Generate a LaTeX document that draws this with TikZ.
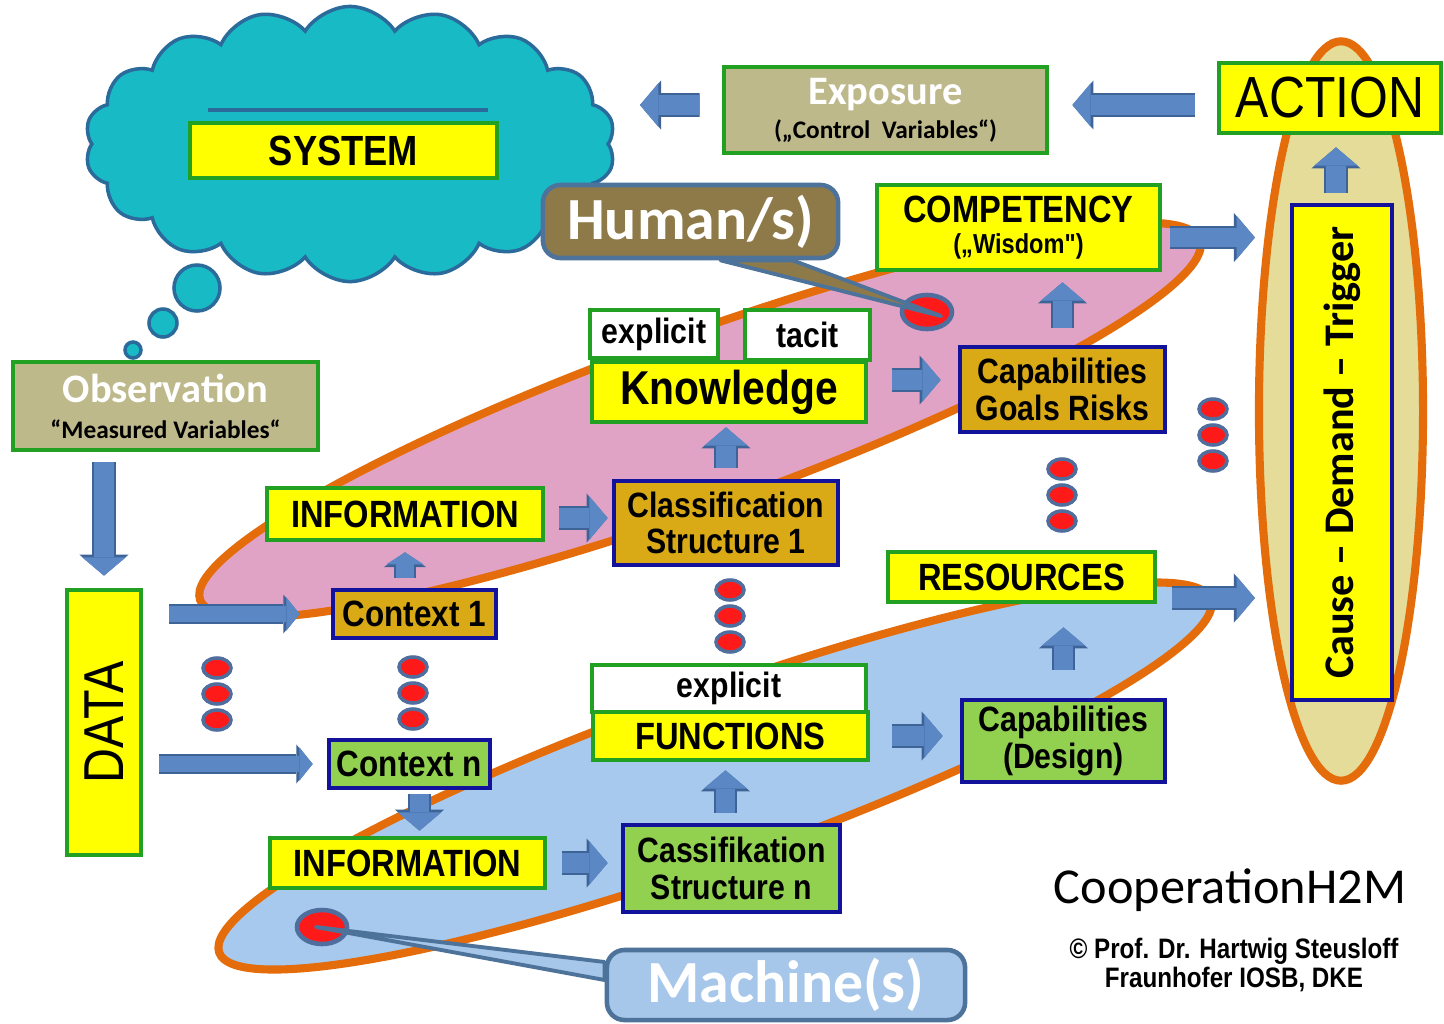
\documentclass[tikz,border=0pt]{standalone}
\usepackage{fontspec}
\usepackage{graphicx}
\usetikzlibrary{shapes.geometric,shapes.symbols,arrows.meta}
\newfontfamily\lsans[FakeStretch=0.86]{Liberation Sans}
\newfontfamily\cfont{Carlito}
\definecolor{boxyellow}{HTML}{FFFF00}
\definecolor{boxgreen}{HTML}{22A022}
\definecolor{navy}{HTML}{12129A}
\definecolor{gold}{HTML}{DAAA16}
\definecolor{lime}{HTML}{92D050}
\definecolor{khaki}{HTML}{BEB98B}
\definecolor{humanbrown}{HTML}{8E7A49}
\definecolor{machfill}{HTML}{A6C6EA}
\definecolor{calloutedge}{HTML}{4E739A}
\definecolor{pinklobe}{HTML}{E1A3C5}
\definecolor{bluelobe}{HTML}{A7C9EE}
\definecolor{trigfill}{HTML}{E5DC9A}
\definecolor{lobeorange}{HTML}{E46C0A}
\definecolor{cloudfill}{HTML}{18BAC6}
\definecolor{cloudedge}{HTML}{2A6B9B}
\definecolor{dotred}{HTML}{FF1A1A}
\definecolor{dotedge}{HTML}{4F6E9E}
\definecolor{arrowblue}{HTML}{5B88C4}
\definecolor{arrowedge}{HTML}{3E6497}
\pgfdeclarelayer{back}
\pgfdeclarelayer{mid}
\pgfsetlayers{back,mid,main}

\begin{document}
\begin{tikzpicture}[x=0.01cm,y=-0.01cm,
  box/.style={draw=boxgreen,line width=1.3pt,inner sep=0pt,align=center,
    font=\lsans\bfseries\fontsize{10.8}{12}\selectfont},
  ybox/.style={box,fill=boxyellow},
  wbox/.style={box,fill=white,font=\lsans\bfseries\fontsize{10}{12}\selectfont},
  kbox/.style={box,fill=khaki,font=\cfont\bfseries\fontsize{7.2}{9}\selectfont},
  cbox/.style={box,draw=navy,fill=gold,font=\lsans\bfseries\fontsize{10}{10.3}\selectfont},
  lbox/.style={cbox,fill=lime},
  callout/.style={draw=calloutedge,line width=1.3pt,rounded corners=5pt,inner sep=0pt,
    text=white,font=\cfont\bfseries\fontsize{17}{20}\selectfont},
  tail/.style={draw=calloutedge,line width=1.1pt,line join=round},
  dot/.style={ellipse,fill=dotred,draw=dotedge,line width=1pt,inner sep=0pt,
    minimum width=0.28cm,minimum height=0.2cm},
  bigdot/.style={dot,line width=1.3pt,minimum width=0.5cm,minimum height=0.34cm},
  lobe/.style={draw=lobeorange,line width=2.3pt},
  puff/.style={fill=cloudfill,draw=cloudedge,line width=1pt},
  flow/.style={preaction={draw=arrowedge,line width=6.8pt,
      -{Triangle[length=6pt,width=14pt,line width=0pt]}},
    draw=arrowblue,line width=5.6pt,-{Triangle[length=5.2pt,width=12.4pt,line width=0pt]}},
  slimflow/.style={preaction={draw=arrowedge,line width=5.6pt,
      -{Triangle[length=4.6pt,width=11pt,line width=0pt]}},
    draw=arrowblue,line width=4.4pt,-{Triangle[length=3.8pt,width=9.6pt,line width=0pt]}},
  smallflow/.style={preaction={draw=arrowedge,line width=6.4pt,
      -{Triangle[length=4.2pt,width=12pt,line width=0pt]}},
    draw=arrowblue,line width=5.2pt,-{Triangle[length=3.4pt,width=10.6pt,line width=0pt]}},
]
\useasboundingbox (0,0) rectangle (1444,1023);

\begin{pgfonlayer}{back}
  \fill[white] (0,0) rectangle (1444,1023);
  \draw[lobe,fill=pinklobe,rotate around={19.8:(700,420)}] (700,420) ellipse [x radius=5.31cm,y radius=0.86cm];
  \draw[lobe,fill=bluelobe,rotate around={19.6:(715,776)}] (715,776) ellipse [x radius=5.26cm,y radius=0.84cm];
  \node[ellipse,lobe,fill=trigfill,inner sep=0pt,minimum width=1.64cm,minimum height=7.39cm] (trig) at (1341,411) {};
  \node[cloud,cloud puffs=18,cloud puff arc=115,aspect=1.9,puff,minimum width=5.3cm,minimum height=2.75cm] (sky) at (350,144) {};
  \draw[cloudedge,line width=1pt] (208,110) -- (488,110);
  \node[circle,puff,inner sep=0pt,minimum size=0.46cm] (bub1) at (197,288) {};
  \node[circle,puff,inner sep=0pt,minimum size=0.28cm] (bub2) at (163,323) {};
  \node[circle,puff,inner sep=0pt,minimum size=0.16cm] (bub3) at (133,350) {};
\end{pgfonlayer}

% boxes
\node[ybox,minimum width=3.07cm,minimum height=0.55cm,font=\lsans\bfseries\fontsize{12}{14}\selectfont] (sys) at (343.5,150.5) {SYSTEM};
\node[kbox,minimum width=3.05cm,minimum height=0.88cm] (obs) at (165.5,406)
  {{\color{white}\fontsize{11.5}{13}\selectfont Observation}\\[1.2pt]“Measured Variables“};
\node[kbox,minimum width=3.23cm,minimum height=0.86cm] (expo) at (885.5,110)
  {{\color{white}\fontsize{11.5}{13}\selectfont Exposure}\\[0.7pt](„Control\ \ Variables“)};
\node[ybox,minimum width=2.22cm,minimum height=0.7cm,font=\lsans\fontsize{16.5}{18}\selectfont] (action) at (1330,98) {ACTION};
\node[ybox,draw=navy,minimum width=1cm,minimum height=4.95cm,font=\cfont\bfseries\fontsize{12}{14}\selectfont] (cause) at (1342,452.5)
  {\rotatebox{90}{Cause – Demand – Trigger}};
\node[ybox,minimum width=0.74cm,minimum height=2.65cm,font=\lsans\fontsize{16}{18}\selectfont] (data) at (104,722.5) {\rotatebox{90}{DATA}};

\node[ybox,minimum width=2.83cm,minimum height=0.85cm] (comp) at (1018.5,227.5)
  {COMPETENCY\\[-3pt]{\fontsize{7.8}{9}\selectfont(„Wisdom")}};
\node[wbox,minimum width=1.28cm,minimum height=0.48cm] (expl1) at (654,334) {explicit};
\node[wbox,minimum width=1.25cm,minimum height=0.5cm] (tacit) at (807.5,335) {tacit};
\node[ybox,minimum width=2.74cm,minimum height=0.6cm,font=\lsans\bfseries\fontsize{13.5}{15}\selectfont] (know) at (729,392) {Knowledge};
\node[cbox,minimum width=2.05cm,minimum height=0.85cm] (capg) at (1062.5,389.5) {Capabilities\\Goals Risks};
\node[ybox,minimum width=2.76cm,minimum height=0.52cm] (info1) at (405,514) {INFORMATION};
\node[cbox,minimum width=2.24cm,minimum height=0.84cm] (class1) at (726,523) {Classification\\Structure 1};
\node[cbox,minimum width=1.63cm,minimum height=0.48cm,font=\lsans\bfseries\fontsize{10.4}{12}\selectfont] (ctx1) at (414.5,614) {Context 1};

\node[lbox,minimum width=1.61cm,minimum height=0.48cm,font=\lsans\bfseries\fontsize{10.4}{12}\selectfont] (ctxn) at (409.5,764) {Context n};
\node[ybox,minimum width=2.75cm,minimum height=0.5cm] (info2) at (407.5,863) {INFORMATION};
\node[lbox,minimum width=2.17cm,minimum height=0.87cm] (classn) at (731.5,868.5) {Cassifikation\\Structure n};
\node[wbox,minimum width=2.74cm,minimum height=0.47cm] (expl2) at (729,688.5) {explicit};
\node[ybox,minimum width=2.75cm,minimum height=0.48cm] (func) at (730.5,736) {FUNCTIONS};
\node[lbox,minimum width=2.03cm,minimum height=0.82cm] (capd) at (1063.5,741) {Capabilities\\(Design)};
\node[ybox,minimum width=2.67cm,minimum height=0.5cm] (res) at (1021.5,577) {RESOURCES};

% callouts
\node[callout,fill=humanbrown,minimum width=2.95cm,minimum height=0.73cm] (human) at (690.5,221.5) {Human/s)};
\node[callout,fill=machfill,minimum width=3.58cm,minimum height=0.7cm] (machine) at (786,985) {Machine(s)};
\begin{pgfonlayer}{mid}
  \node[bigdot] (hdot) at (927,312) {};
  \node[bigdot] (mdot) at (322,927) {};
  \filldraw[tail,fill=humanbrown] ([xshift=0.3cm]human.south) -- ([xshift=0.14cm,yshift=-0.04cm]hdot.center) -- ([xshift=1.02cm]human.south) -- cycle;
  \filldraw[tail,fill=machfill] ([yshift=0.23cm]machine.west) -- ([xshift=-0.06cm]mdot.center) -- ([yshift=0.05cm]machine.west) -- cycle;
\end{pgfonlayer}

% dots
\foreach \y [count=\i] in {668,694,720} \node[dot] (dA\i) at (217,\y) {};
\foreach \y [count=\i] in {667,693,719} \node[dot] (dB\i) at (413,\y) {};
\foreach \y [count=\i] in {590,616,642} \node[dot] (dC\i) at (730,\y) {};
\foreach \y [count=\i] in {469,495,521} \node[dot] (dD\i) at (1062,\y) {};
\foreach \y [count=\i] in {409,435,461} \node[dot] (dE\i) at (1213,\y) {};

\node[inner sep=0pt,font=\cfont\fontsize{14.3}{16}\selectfont] (coop) at (1230,890) {CooperationH2M};
\node[inner sep=0pt,align=center,font=\lsans\bfseries\fontsize{8}{8.5}\selectfont] (credit) at (1234,965)
  {© Prof. Dr. Hartwig Steusloff\\Fraunhofer IOSB, DKE};

% arrows
\coordinate (sysin) at (640,105);
\draw[flow,shorten <=0.1cm,shorten >=0.12cm] (data.north |- obs.south) -- (data.north);
\draw[flow,shorten <=0.22cm,shorten >=0.23cm] ([yshift=-0.07cm]action.west) -- ([yshift=-0.07cm]action.west -| expo.east);
\draw[flow,shorten <=0.22cm] ([yshift=0.05cm]expo.west) -- (sysin);
\draw[flow,shorten <=0.1cm,shorten >=0.12cm] ([xshift=-0.06cm]cause.north) -- ([xshift=-0.06cm]cause.north |- action.south);
\draw[flow,shorten <=0.08cm] ([yshift=-0.1cm]comp.east) -- ([yshift=-0.1cm]comp.east -| trig.west);
\draw[flow,shorten <=0.15cm] ([yshift=-0.21cm]res.east) -- ([yshift=-0.21cm]res.east -| trig.west);
\draw[flow,shorten <=0.24cm,shorten >=0.17cm] ([yshift=0.12cm]know.east) -- ([yshift=0.12cm]know.east -| capg.west);
\draw[flow,shorten <=0.17cm,shorten >=0.1cm] (capg.north) -- (capg.north |- comp.south);
\draw[flow,shorten <=0.11cm,shorten >=0.03cm] (class1.north) -- (class1.north |- know.south);
\draw[flow,shorten <=0.14cm,shorten >=0.04cm] ([yshift=-0.04cm]info1.east) -- ([yshift=-0.04cm]info1.east -| class1.west);
\draw[smallflow,shorten <=0.1cm,shorten >=0.1cm] (info1.south |- ctx1.north) -- (info1.south);
\draw[slimflow,shorten <=0.26cm,shorten >=0.31cm] (ctx1.west -| data.east) -- (ctx1.west);
\draw[slimflow,shorten <=0.16cm,shorten >=0.14cm] (ctxn.west -| data.east) -- (ctxn.west);
\draw[flow,shorten <=0.04cm,shorten >=0.05cm] ([xshift=0.1cm]ctxn.south) -- ([xshift=0.1cm]ctxn.south |- info2.north);
\draw[flow,shorten <=0.15cm,shorten >=0.13cm] (info2.east) -- (info2.east -| classn.west);
\draw[flow,shorten <=0.1cm,shorten >=0.08cm] ([xshift=-0.06cm]classn.north) -- ([xshift=-0.06cm]classn.north |- func.south);
\draw[flow,shorten <=0.22cm,shorten >=0.17cm] (func.east) -- (func.east -| capd.west);
\draw[flow,shorten <=0.28cm,shorten >=0.23cm] (capd.north) -- (capd.north |- res.south);
\end{tikzpicture}
\end{document}
